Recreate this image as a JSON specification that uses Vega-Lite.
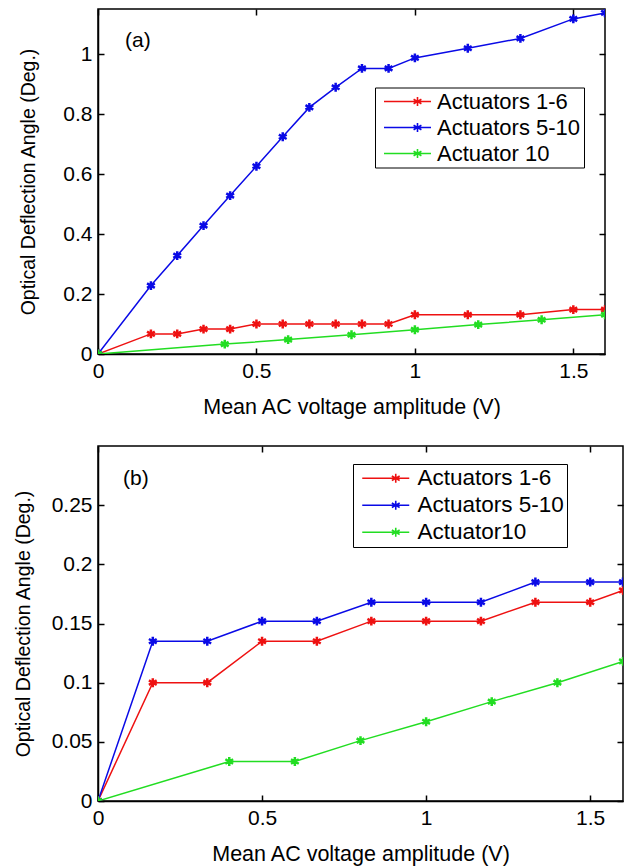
{
  "$schema": "https://vega.github.io/schema/vega-lite/v6.json",
  "padding": {"left": 12, "top": 7, "right": 0, "bottom": 0},
  "background": "white",
  "config": {
    "view": {"stroke": "black", "strokeWidth": 1.5},
    "font": "Liberation Sans",
    "axis": {"grid": false, "labelColor": "black", "titleColor": "black", "tickColor": "black", "domainColor": "black", "labelFont": "Liberation Sans", "titleFont": "Liberation Sans", "titleFontWeight": "normal", "labelFlush": false, "labelOverlap": false, "tickWidth": 1.5, "domainWidth": 1.5},
    "legend": {"labelFont": "Liberation Sans", "labelFontSize": 22, "labelColor": "black", "strokeColor": "black", "fillColor": "white", "padding": 3, "labelOffset": 37, "symbolStrokeWidth": 1.6, "symbolFillColor": "transparent", "rowPadding": 4},
    "title": {"font": "Liberation Sans", "fontWeight": "normal", "fontSize": 21, "color": "black"}
  },
  "datasets": {
    "pts": [
      {"p": "a", "s": "Actuators 1-6", "x": 0, "y": 0},
      {"p": "a", "s": "Actuators 1-6", "x": 0.167, "y": 0.067},
      {"p": "a", "s": "Actuators 1-6", "x": 0.25, "y": 0.067},
      {"p": "a", "s": "Actuators 1-6", "x": 0.333, "y": 0.083},
      {"p": "a", "s": "Actuators 1-6", "x": 0.417, "y": 0.083},
      {"p": "a", "s": "Actuators 1-6", "x": 0.5, "y": 0.1},
      {"p": "a", "s": "Actuators 1-6", "x": 0.583, "y": 0.1},
      {"p": "a", "s": "Actuators 1-6", "x": 0.667, "y": 0.1},
      {"p": "a", "s": "Actuators 1-6", "x": 0.75, "y": 0.1},
      {"p": "a", "s": "Actuators 1-6", "x": 0.833, "y": 0.1},
      {"p": "a", "s": "Actuators 1-6", "x": 0.917, "y": 0.1},
      {"p": "a", "s": "Actuators 1-6", "x": 1.0, "y": 0.131},
      {"p": "a", "s": "Actuators 1-6", "x": 1.167, "y": 0.131},
      {"p": "a", "s": "Actuators 1-6", "x": 1.333, "y": 0.131},
      {"p": "a", "s": "Actuators 1-6", "x": 1.5, "y": 0.148},
      {"p": "a", "s": "Actuators 1-6", "x": 1.6, "y": 0.148},
      {"p": "a", "s": "Actuators 5-10", "x": 0, "y": 0},
      {"p": "a", "s": "Actuators 5-10", "x": 0.167, "y": 0.228},
      {"p": "a", "s": "Actuators 5-10", "x": 0.25, "y": 0.328},
      {"p": "a", "s": "Actuators 5-10", "x": 0.333, "y": 0.428},
      {"p": "a", "s": "Actuators 5-10", "x": 0.417, "y": 0.528},
      {"p": "a", "s": "Actuators 5-10", "x": 0.5, "y": 0.626},
      {"p": "a", "s": "Actuators 5-10", "x": 0.583, "y": 0.724},
      {"p": "a", "s": "Actuators 5-10", "x": 0.667, "y": 0.822},
      {"p": "a", "s": "Actuators 5-10", "x": 0.75, "y": 0.889},
      {"p": "a", "s": "Actuators 5-10", "x": 0.833, "y": 0.952},
      {"p": "a", "s": "Actuators 5-10", "x": 0.917, "y": 0.952},
      {"p": "a", "s": "Actuators 5-10", "x": 1.0, "y": 0.987},
      {"p": "a", "s": "Actuators 5-10", "x": 1.167, "y": 1.019},
      {"p": "a", "s": "Actuators 5-10", "x": 1.333, "y": 1.052},
      {"p": "a", "s": "Actuators 5-10", "x": 1.5, "y": 1.117},
      {"p": "a", "s": "Actuators 5-10", "x": 1.6, "y": 1.137},
      {"p": "a", "s": "Actuator 10", "x": 0, "y": 0},
      {"p": "a", "s": "Actuator 10", "x": 0.4, "y": 0.033},
      {"p": "a", "s": "Actuator 10", "x": 0.6, "y": 0.048},
      {"p": "a", "s": "Actuator 10", "x": 0.8, "y": 0.064},
      {"p": "a", "s": "Actuator 10", "x": 1.0, "y": 0.081},
      {"p": "a", "s": "Actuator 10", "x": 1.2, "y": 0.098},
      {"p": "a", "s": "Actuator 10", "x": 1.4, "y": 0.114},
      {"p": "a", "s": "Actuator 10", "x": 1.6, "y": 0.131},
      {"p": "b", "s": "Actuators 1-6", "x": 0, "y": 0},
      {"p": "b", "s": "Actuators 1-6", "x": 0.167, "y": 0.1},
      {"p": "b", "s": "Actuators 1-6", "x": 0.333, "y": 0.1},
      {"p": "b", "s": "Actuators 1-6", "x": 0.5, "y": 0.135},
      {"p": "b", "s": "Actuators 1-6", "x": 0.667, "y": 0.135},
      {"p": "b", "s": "Actuators 1-6", "x": 0.833, "y": 0.152},
      {"p": "b", "s": "Actuators 1-6", "x": 1.0, "y": 0.152},
      {"p": "b", "s": "Actuators 1-6", "x": 1.167, "y": 0.152},
      {"p": "b", "s": "Actuators 1-6", "x": 1.333, "y": 0.168},
      {"p": "b", "s": "Actuators 1-6", "x": 1.5, "y": 0.168},
      {"p": "b", "s": "Actuators 1-6", "x": 1.6, "y": 0.178},
      {"p": "b", "s": "Actuators 5-10", "x": 0, "y": 0},
      {"p": "b", "s": "Actuators 5-10", "x": 0.167, "y": 0.135},
      {"p": "b", "s": "Actuators 5-10", "x": 0.333, "y": 0.135},
      {"p": "b", "s": "Actuators 5-10", "x": 0.5, "y": 0.152},
      {"p": "b", "s": "Actuators 5-10", "x": 0.667, "y": 0.152},
      {"p": "b", "s": "Actuators 5-10", "x": 0.833, "y": 0.168},
      {"p": "b", "s": "Actuators 5-10", "x": 1.0, "y": 0.168},
      {"p": "b", "s": "Actuators 5-10", "x": 1.167, "y": 0.168},
      {"p": "b", "s": "Actuators 5-10", "x": 1.333, "y": 0.185},
      {"p": "b", "s": "Actuators 5-10", "x": 1.5, "y": 0.185},
      {"p": "b", "s": "Actuators 5-10", "x": 1.6, "y": 0.185},
      {"p": "b", "s": "Actuator10", "x": 0, "y": 0},
      {"p": "b", "s": "Actuator10", "x": 0.4, "y": 0.0334},
      {"p": "b", "s": "Actuator10", "x": 0.6, "y": 0.0334},
      {"p": "b", "s": "Actuator10", "x": 0.8, "y": 0.051},
      {"p": "b", "s": "Actuator10", "x": 1.0, "y": 0.067},
      {"p": "b", "s": "Actuator10", "x": 1.2, "y": 0.084},
      {"p": "b", "s": "Actuator10", "x": 1.4, "y": 0.1},
      {"p": "b", "s": "Actuator10", "x": 1.6, "y": 0.118}
    ]
  },
  "resolve": {"scale": {"color": "independent"}, "legend": {"color": "independent"}},
  "spacing": 25,
  "vconcat": [
    {
      "width": 507,
      "height": 345,
      "title": {"text": "(a)", "anchor": "start", "frame": "group", "orient": "top", "offset": -43, "dx": 27, "fontSize": 21},
      "data": {"name": "pts"},
      "transform": [{"filter": "datum.p === 'a'"}],
      "layer": [
        {
          "mark": {"type": "line", "strokeWidth": 1.5, "clip": true},
          "encoding": {
            "x": {"field": "x", "type": "quantitative", "scale": {"domain": [0, 1.6], "nice": false, "zero": false},
              "axis": {"orient": "bottom", "title": "Mean AC voltage amplitude (V)", "values": [0, 0.5, 1, 1.5], "format": "~g", "tickSize": -6, "labelPadding": 12, "labelFontSize": 21, "titleFontSize": 21.5, "titlePadding": 15}},
            "y": {"field": "y", "type": "quantitative", "scale": {"domain": [0, 1.15], "nice": false},
              "axis": {"orient": "left", "title": "Optical Deflection Angle (Deg.)", "values": [0, 0.2, 0.4, 0.6, 0.8, 1], "format": "~g", "tickSize": -6, "labelPadding": 12, "labelFontSize": 21, "titleFontSize": 19.5, "titlePadding": 24}},
            "color": {"field": "s", "type": "nominal",
              "scale": {"domain": ["Actuators 1-6", "Actuators 5-10", "Actuator 10"], "range": ["#ee1111", "#0a0ae6", "#22dd22"]},
              "legend": {"title": null, "orient": "none", "legendX": 277, "legendY": 78.5, "symbolType": "M-0.5,0L4.2,0M2.85,-0.45L2.85,0.45M2.46,-0.22L3.24,0.22M2.46,0.22L3.24,-0.22", "symbolSize": 400}}
          }
        },
        {
          "mark": {"type": "point", "shape": "M0,-1L0,1M-0.87,-0.5L0.87,0.5M-0.87,0.5L0.87,-0.5", "filled": false, "strokeWidth": 2.5, "size": 80, "opacity": 1, "clip": true},
          "encoding": {
            "x": {"field": "x", "type": "quantitative", "axis": {"orient": "top", "labels": false, "title": null, "domain": false, "values": [0, 0.5, 1, 1.5], "tickSize": -6}},
            "y": {"field": "y", "type": "quantitative", "axis": {"orient": "right", "labels": false, "title": null, "domain": false, "values": [0, 0.2, 0.4, 0.6, 0.8, 1], "tickSize": -6}},
            "color": {"field": "s", "type": "nominal", "legend": null}
          }
        }
      ]
    },
    {
      "width": 525,
      "height": 355,
      "title": {"text": "(b)", "anchor": "start", "frame": "group", "orient": "top", "offset": -44, "dx": 25, "fontSize": 21},
      "data": {"name": "pts"},
      "transform": [{"filter": "datum.p === 'b'"}],
      "layer": [
        {
          "mark": {"type": "line", "strokeWidth": 1.5, "clip": true},
          "encoding": {
            "x": {"field": "x", "type": "quantitative", "scale": {"domain": [0, 1.6], "nice": false, "zero": false},
              "axis": {"orient": "bottom", "title": "Mean AC voltage amplitude (V)", "values": [0, 0.5, 1, 1.5], "format": "~g", "tickSize": -6, "labelPadding": 12, "labelFontSize": 21, "titleFontSize": 21.5, "titlePadding": 15}},
            "y": {"field": "y", "type": "quantitative", "scale": {"domain": [0, 0.3], "nice": false},
              "axis": {"orient": "left", "title": "Optical Deflection Angle (Deg.)", "values": [0, 0.05, 0.1, 0.15, 0.2, 0.25], "format": "~g", "tickSize": -6, "labelPadding": 12, "labelFontSize": 21, "titleFontSize": 19.5, "titlePadding": 17.5}},
            "color": {"field": "s", "type": "nominal",
              "scale": {"domain": ["Actuators 1-6", "Actuators 5-10", "Actuator10"], "range": ["#ee1111", "#0a0ae6", "#22dd22"]},
              "legend": {"title": null, "orient": "none", "legendX": 255, "legendY": 18, "labelFontSize": 22.5, "labelOffset": 39, "symbolType": "M-0.5,0L4.2,0M2.85,-0.45L2.85,0.45M2.46,-0.22L3.24,0.22M2.46,0.22L3.24,-0.22", "symbolSize": 400}}
          }
        },
        {
          "mark": {"type": "point", "shape": "M0,-1L0,1M-0.87,-0.5L0.87,0.5M-0.87,0.5L0.87,-0.5", "filled": false, "strokeWidth": 2.5, "size": 80, "opacity": 1, "clip": true},
          "encoding": {
            "x": {"field": "x", "type": "quantitative", "axis": {"orient": "top", "labels": false, "title": null, "domain": false, "values": [0, 0.5, 1, 1.5], "tickSize": -6}},
            "y": {"field": "y", "type": "quantitative", "axis": {"orient": "right", "labels": false, "title": null, "domain": false, "values": [0, 0.05, 0.1, 0.15, 0.2, 0.25], "tickSize": -6}},
            "color": {"field": "s", "type": "nominal", "legend": null}
          }
        }
      ]
    }
  ]
}
